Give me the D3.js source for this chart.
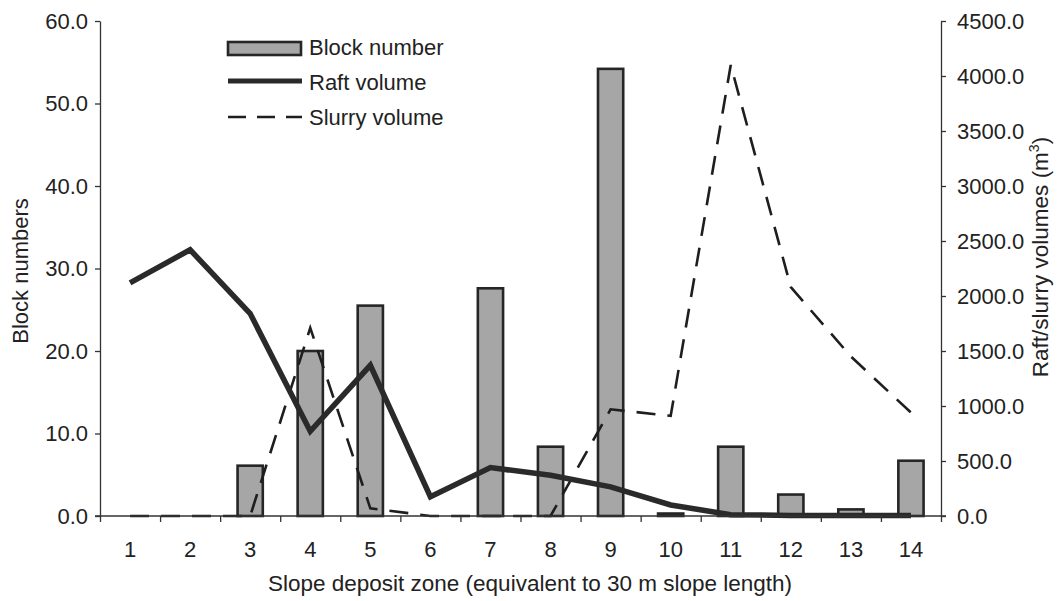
<!DOCTYPE html>
<html>
<head>
<meta charset="utf-8">
<script src="https://cdn.jsdelivr.net/npm/d3@7"></script>
<style>
  html, body { margin: 0; padding: 0; background: #fff; }
  svg { display: block; font-family: "Liberation Sans", Arial, sans-serif; }
  .axis path, .axis line { stroke: #333; stroke-width: 1.3px; }
  .axis text { fill: #222; font-size: 22px; }
</style>
</head>
<body>
<div id="chart"></div>
<script>
  const zones = [1, 2, 3, 4, 5, 6, 7, 8, 9, 10, 11, 12, 13, 14];
  const blockNumber = [0, 0, 6.1, 20.0, 25.5, 0, 27.6, 8.4, 54.2, 0.3, 8.4, 2.6, 0.8, 6.7];
  const raftVolume = [2120, 2420, 1840, 770, 1370, 175, 440, 370, 265, 100, 12, 5, 5, 5];
  const slurryVolume = [0, 0, 0, 1710, 70, 0, 0, 0, 970, 910, 4100, 2080, 1450, 940];
  const leftTicks = [0, 10, 20, 30, 40, 50, 60];
  const rightTicks = [0, 500, 1000, 1500, 2000, 2500, 3000, 3500, 4000, 4500];

  const width = 1059;
  const height = 601;
  let [mt, mr, mb, ml] = [21, 118, 85, 100];

  const svg = d3.select('#chart')
    .append('svg')
    .attr('width', width)
    .attr('height', height)
    .attr('viewBox', [0, 0, width, height]);

  const graphWidth = width - ml - mr;
  const graphHeight = height - mt - mb;

  const graph = svg.append('g')
    .attr('transform', `translate(${ml},${mt})`);

  const x = d3.scaleBand()
    .domain(zones)
    .range([0, graphWidth])
    .padding(0);

  // boundaries for the x tick marks
  const xEdge = d3.scaleLinear()
    .domain([0, zones.length])
    .range([0, graphWidth]);

  const y = d3.scaleLinear()
    .domain([0, 60])
    .range([graphHeight, 0]);

  const y2 = d3.scaleLinear()
    .domain([0, 4500])
    .range([graphHeight, 0]);

  // bars
  const barW = x.bandwidth() * 0.42;
  graph.selectAll('rect.bar')
    .data(zones)
    .enter()
    .append('rect')
    .attr('class', 'bar')
    .attr('x', (d) => x(d) + x.bandwidth() / 2 - barW / 2)
    .attr('y', (d, i) => y(blockNumber[i]))
    .attr('width', barW)
    .attr('height', (d, i) => graphHeight - y(blockNumber[i]))
    .attr('fill', '#a6a6a6')
    .attr('stroke', '#262626')
    .attr('stroke-width', 2.6);

  const cx = (d) => x(d) + x.bandwidth() / 2;

  const lineSlurry = d3.line()
    .x((d) => cx(d))
    .y((d, i) => y2(slurryVolume[i]));
  const lineRaft = d3.line()
    .x((d) => cx(d))
    .y((d, i) => y2(raftVolume[i]));

  graph.append('path')
    .attr('fill', 'none')
    .attr('stroke', '#1e1e1e')
    .attr('stroke-width', 2.6)
    .attr('stroke-dasharray', '19,12')
    .attr('d', lineSlurry(zones));

  graph.append('path')
    .attr('fill', 'none')
    .attr('stroke', '#2a2a2a')
    .attr('stroke-width', 5.5)
    .attr('stroke-linejoin', 'miter')
    .attr('d', lineRaft(zones));

  // axes
  const xAxisG = graph.append('g')
    .attr('class', 'axis')
    .attr('transform', `translate(0, ${graphHeight})`)
    .call(d3.axisBottom(xEdge).tickValues(d3.range(0, zones.length + 1)).tickSize(6).tickSizeOuter(0).tickFormat(''));
  xAxisG.select('.domain').attr('d', `M-5,0H${graphWidth + 5}`);

  graph.append('g')
    .attr('class', 'axis')
    .attr('transform', `translate(0, ${graphHeight})`)
    .call(d3.axisBottom(x).tickSize(0).tickPadding(25))
    .call((g) => g.select('.domain').remove());

  graph.append('g')
    .attr('class', 'axis')
    .call(d3.axisLeft(y).tickValues(leftTicks).tickFormat(d3.format('.1f')).tickSize(5).tickSizeOuter(0).tickPadding(7));

  graph.append('g')
    .attr('class', 'axis')
    .attr('transform', `translate(${graphWidth},0)`)
    .call(d3.axisRight(y2).tickValues(rightTicks).tickFormat(d3.format('.1f')).tickSize(5).tickSizeOuter(0).tickPadding(11));

  // axis titles
  svg.append('text')
    .attr('x', 530)
    .attr('y', 591)
    .attr('text-anchor', 'middle')
    .attr('fill', '#222')
    .style('font-size', '22.5px')
    .text('Slope deposit zone (equivalent to 30 m slope length)');

  svg.append('text')
    .attr('transform', 'translate(28, 271) rotate(-90)')
    .attr('text-anchor', 'middle')
    .attr('fill', '#222')
    .style('font-size', '22px')
    .text('Block numbers');

  const rt = svg.append('text')
    .attr('transform', 'translate(1048, 257) rotate(-90)')
    .attr('text-anchor', 'middle')
    .attr('fill', '#222')
    .style('font-size', '22.5px');
  rt.append('tspan').text('Raft/slurry volumes (m');
  rt.append('tspan').attr('dy', -9).style('font-size', '14px').text('3');
  rt.append('tspan').attr('dy', 9).text(')');

  // legend
  const legend = svg.append('g').attr('transform', 'translate(228, 0)');
  legend.append('rect')
    .attr('x', 0).attr('y', 42)
    .attr('width', 73).attr('height', 13)
    .attr('fill', '#a6a6a6')
    .attr('stroke', '#262626')
    .attr('stroke-width', 2.6);
  legend.append('line')
    .attr('x1', 0).attr('x2', 74).attr('y1', 81).attr('y2', 81)
    .attr('stroke', '#2a2a2a').attr('stroke-width', 5);
  legend.append('line')
    .attr('x1', 0).attr('x2', 74).attr('y1', 117).attr('y2', 117)
    .attr('stroke', '#1e1e1e').attr('stroke-width', 2.6)
    .attr('stroke-dasharray', '18,11');
  const legendLabels = ['Block number', 'Raft volume', 'Slurry volume'];
  legend.selectAll('text.lg')
    .data(legendLabels)
    .enter()
    .append('text')
    .attr('class', 'lg')
    .attr('x', 81)
    .attr('y', (d, i) => 55 + i * 35)
    .attr('fill', '#222')
    .style('font-size', '22px')
    .text((d) => d);
</script>
</body>
</html>
